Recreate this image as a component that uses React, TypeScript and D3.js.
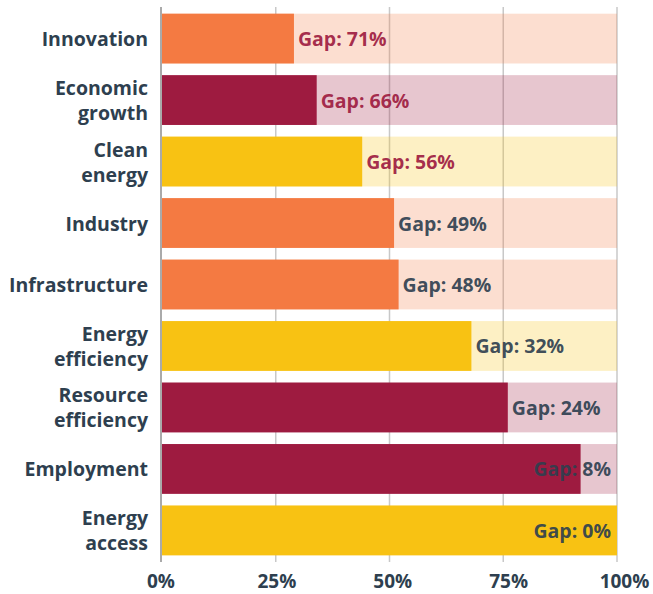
import React from "react";
import * as d3 from "d3";

const categories = [
  ["Innovation"],
  ["Economic", "growth"],
  ["Clean", "energy"],
  ["Industry"],
  ["Infrastructure"],
  ["Energy", "efficiency"],
  ["Resource", "efficiency"],
  ["Employment"],
  ["Energy", "access"],
];
const values = [29, 34, 44, 51, 52, 68, 76, 92, 100];
const groups = ["orange", "crimson", "yellow", "orange", "orange", "yellow", "crimson", "crimson", "yellow"];
const ticks = [0, 25, 50, 75, 100];

const colors: Record<string, string> = {
  orange: "#F47A42",
  crimson: "#9E1B40",
  yellow: "#F8C213",
};

const W = 653;
const H = 594;
const FONT = "'Open Sans', sans-serif";

export default function App() {
  const x = d3.scaleLinear().domain([0, 100]).range([162, 617]);
  const xLabel = d3.scaleLinear().domain([0, 100]).range([161, 624.5]);
  const y = d3
    .scaleBand<number>()
    .domain(values.map((_, i) => i))
    .range([2, 567])
    .paddingInner(0.19)
    .paddingOuter(0.19);
  const bh = y.bandwidth();
  return (
    <svg
      width={W}
      height={H}
      style={{ position: "absolute", left: 0, top: 0, background: "#fff" }}
      fontFamily={FONT}
    >
      {ticks.slice(1).map((t) => (
        <line key={t} x1={x(t)} x2={x(t)} y1={7} y2={562} stroke="#c8c8c8" strokeWidth={1.5} />
      ))}
      {values.map((v, i) => {
        const c = colors[groups[i]];
        const yy = y(i)!;
        const gap = 100 - v;
        const right = v > 85;
        const labelColor = gap > 50 ? "#9E1B40" : "#2E3F4F";
        const lines = categories[i];
        return (
          <g key={i}>
            <rect x={x(0)} y={yy} width={x(100) - x(0)} height={bh} fill={c} fillOpacity={0.25} />
            <rect x={x(0)} y={yy} width={x(v) - x(0)} height={bh} fill={c} />
            <text
              x={right ? x(100) - 6 : x(v) + 4}
              y={yy + bh / 2}
              dominantBaseline="central"
              textAnchor={right ? "end" : "start"}
              fill={labelColor}
              fillOpacity={0.92}
              fontSize={19.5}
              fontWeight={700}
            >
              {`Gap: ${gap}%`}
            </text>
            {lines.map((l, k) => (
              <text
                key={k}
                x={148}
                y={yy + bh / 2 + (k - (lines.length - 1) / 2) * 25}
                dominantBaseline="central"
                textAnchor="end"
                fill="#2E3F4F"
                fontSize={19.5}
                fontWeight={700}
              >
                {l}
              </text>
            ))}
          </g>
        );
      })}
      <line x1={x(0) - 1} x2={x(0) - 1} y1={7} y2={562} stroke="#aaaaaa" strokeWidth={2} />
      {ticks.map((t) => (
        <text
          key={t}
          x={xLabel(t)}
          y={581}
          dominantBaseline="central"
          textAnchor="middle"
          fill="#2E3F4F"
          fontSize={19}
          fontWeight={700}
        >
          {`${t}%`}
        </text>
      ))}
    </svg>
  );
}
